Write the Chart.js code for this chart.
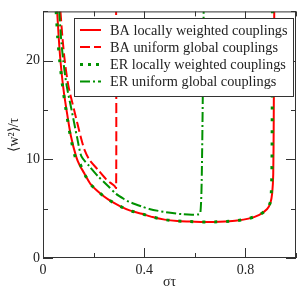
<!DOCTYPE html>
<html>
<head>
<meta charset="utf-8">
<script src="https://cdn.jsdelivr.net/npm/chart.js@4/dist/chart.umd.min.js"></script>
<style>
html,body{margin:0;padding:0;background:#fff;}
#wrap{width:300px;height:287px;}
</style>
</head>
<body>
<div id="wrap"><canvas id="c" width="300" height="287"></canvas></div>
<script>
// ---- data ----
const seriesLabels = ["BA locally weighted couplings","BA uniform global couplings","ER locally weighted couplings","ER uniform global couplings"];

const sigmaBALocal = [0.056,0.062,0.069,0.080,0.093,0.110,0.132,0.145,0.165,0.188,0.221,0.259,0.302,0.345,0.391,0.433,0.481,0.531,0.579,0.625,0.675,0.720,0.767,0.812,0.855,0.886,0.899,0.906,0.910,0.912,0.914];
const wBALocal     = [25,22.4,20,17.3,15,12.4,10.2,9.4,8.5,7.5,6.67,5.91,5.29,4.8,4.48,4.15,3.89,3.75,3.70,3.66,3.66,3.70,3.79,3.99,4.38,4.97,5.6,6.6,8.5,14,25];

const sigmaERLocal = [0.052,0.058,0.066,0.078,0.091,0.108,0.128,0.145,0.165,0.188,0.221,0.259,0.302,0.345,0.391,0.433,0.481,0.531,0.579,0.625,0.675,0.720,0.767,0.812,0.855,0.886,0.899,0.903,0.905,0.906,0.907];
const wERLocal     = [25,22.4,20,17.3,15,12.4,10.2,9.6,8.46,7.48,6.67,5.91,5.29,4.8,4.48,4.15,3.89,3.75,3.70,3.66,3.66,3.70,3.79,3.99,4.38,4.97,5.7,7.0,9.5,15,25];

const sigmaBAUniform = [0.069,0.077,0.086,0.100,0.123,0.150,0.165,0.184,0.217,0.250,0.282,0.289,0.289];
const wBAUniform     = [25,22.3,20,17.5,15,12.2,10.9,9.93,8.95,7.97,7.32,7.1,25];

const sigmaERUniform = [0.064,0.071,0.080,0.094,0.113,0.135,0.152,0.184,0.217,0.256,0.289,0.322,0.341,0.393,0.420,0.485,0.550,0.589,0.610,0.622,0.628,0.635];
const wERUniform     = [25,22.4,20,17.4,15,12.2,10.3,9.28,8.3,7.32,6.5,5.95,5.69,5.2,4.97,4.64,4.44,4.38,4.40,4.54,9,25];

const xTickLabels = ["0","0.4","0.8"];
const yTickLabels = ["0","10","20"];
const xTitle = "στ";
const yTitle = "⟨w²⟩/τ";

// ---- build ----
const zip = (xs, ys) => xs.map((x, i) => ({x: x, y: ys[i]}));
const RED = "#ff0000";
const GREEN = "rgb(0,145,0)";
const FONT = "'Liberation Serif','Times New Roman',serif";

const styles = [
  {borderColor: RED, borderWidth: 2, borderDash: [], order: 2},
  {borderColor: RED, borderWidth: 2, borderDash: [10,4], order: 3},
  {borderColor: GREEN, borderWidth: 3, borderDash: [3,9], order: 0},
  {borderColor: GREEN, borderWidth: 2, borderDash: [10,3,2,3], order: 1}
];
const dataSets = [zip(sigmaBALocal,wBALocal), zip(sigmaBAUniform,wBAUniform), zip(sigmaERLocal,wERLocal), zip(sigmaERUniform,wERUniform)];

const datasets = dataSets.map((d, i) => Object.assign({
  label: seriesLabels[i], data: d, pointRadius: 0, tension: 0.25, fill: false,
  borderCapStyle: 'butt', borderJoinStyle: 'round'
}, styles[i]));

function isLabelled(v, step){ return Math.abs(v/step - Math.round(v/step)) < 1e-6; }

const frameAndTicks = {
  id: 'frameAndTicks',
  afterDatasetsDraw(chart){
    const ctx = chart.ctx, a = chart.chartArea;
    const xs = chart.scales.x, ys = chart.scales.y;
    ctx.save();
    ctx.strokeStyle = '#333';
    ctx.lineWidth = 1;
    // ticks inward
    ctx.beginPath();
    xs.ticks.forEach(t => {
      const p = Math.round(xs.getPixelForValue(t.value)) + 0.5;
      const len = isLabelled(t.value, 0.4) ? 10 : 5;
      ctx.moveTo(p, a.bottom); ctx.lineTo(p, a.bottom - len);
      ctx.moveTo(p, a.top); ctx.lineTo(p, a.top + len);
    });
    ys.ticks.forEach(t => {
      const p = Math.round(ys.getPixelForValue(t.value)) + 0.5;
      const len = isLabelled(t.value, 10) ? 10 : 5;
      ctx.moveTo(a.left, p); ctx.lineTo(a.left + len, p);
      ctx.moveTo(a.right, p); ctx.lineTo(a.right - len, p);
    });
    ctx.stroke();
    // legend box
    const bx = 74, by = 18, bw = 219, bh = 78;
    ctx.fillStyle = '#fff';
    ctx.fillRect(bx, by, bw, bh);
    ctx.strokeRect(bx + 0.5, by + 0.5, bw, bh);
    const rowY = [30, 47, 64.5, 81.5];
    chart.data.datasets.forEach((ds, i) => {
      ctx.save();
      ctx.strokeStyle = ds.borderColor;
      ctx.lineWidth = ds.borderWidth;
      ctx.lineCap = 'butt';
      ctx.setLineDash(i === 2 ? [3,5] : ds.borderDash);
      ctx.beginPath();
      ctx.moveTo(80, rowY[i]); ctx.lineTo(101, rowY[i]);
      ctx.stroke();
      ctx.restore();
      ctx.fillStyle = '#222';
      ctx.font = "14.3px " + FONT;
      ctx.textBaseline = 'middle';
      ctx.textAlign = 'left';
      ctx.fillText(ds.label, 110, rowY[i] + 1);
    });
    // frame
    ctx.strokeStyle = '#333';
    ctx.strokeRect(a.left + 0.5, a.top + 0.5, a.right - a.left - 1, a.bottom - a.top - 1);
    ctx.restore();
  }
};

new Chart(document.getElementById('c'), {
  type: 'line',
  data: {datasets: datasets},
  plugins: [frameAndTicks],
  options: {
    responsive: false,
    animation: false,
    layout: {padding: {top: 3, right: 3, left: 0, bottom: 0}},
    plugins: {legend: {display: false}, tooltip: {enabled: false}},
    scales: {
      x: {
        type: 'linear', min: 0, max: 1,
        grid: {display: false, drawTicks: false},
        border: {display: false},
        ticks: {
          stepSize: 0.2, padding: 4, color: '#222', maxRotation: 0, autoSkip: false,
          font: {family: FONT, size: 14},
          callback: (v) => isLabelled(v, 0.4) ? xTickLabels[Math.round(v/0.4)] : ''
        },
        title: {display: true, text: xTitle, color: '#222', font: {family: FONT, size: 14}, padding: {top: 0, bottom: -4}},
        afterFit: (s) => { s.height = 29; }
      },
      y: {
        type: 'linear', min: 0, max: 25,
        grid: {display: false, drawTicks: false},
        border: {display: false},
        ticks: {
          stepSize: 5, padding: 3, color: '#222', autoSkip: false,
          font: {family: FONT, size: 14},
          callback: (v) => isLabelled(v, 10) ? yTickLabels[Math.round(v/10)] : ''
        },
        title: {display: true, text: yTitle, color: '#222', font: {family: FONT, size: 14}, padding: {top: 6, bottom: 0}},
        afterFit: (s) => { s.width = 43; }
      }
    }
  }
});
</script>
</body>
</html>
